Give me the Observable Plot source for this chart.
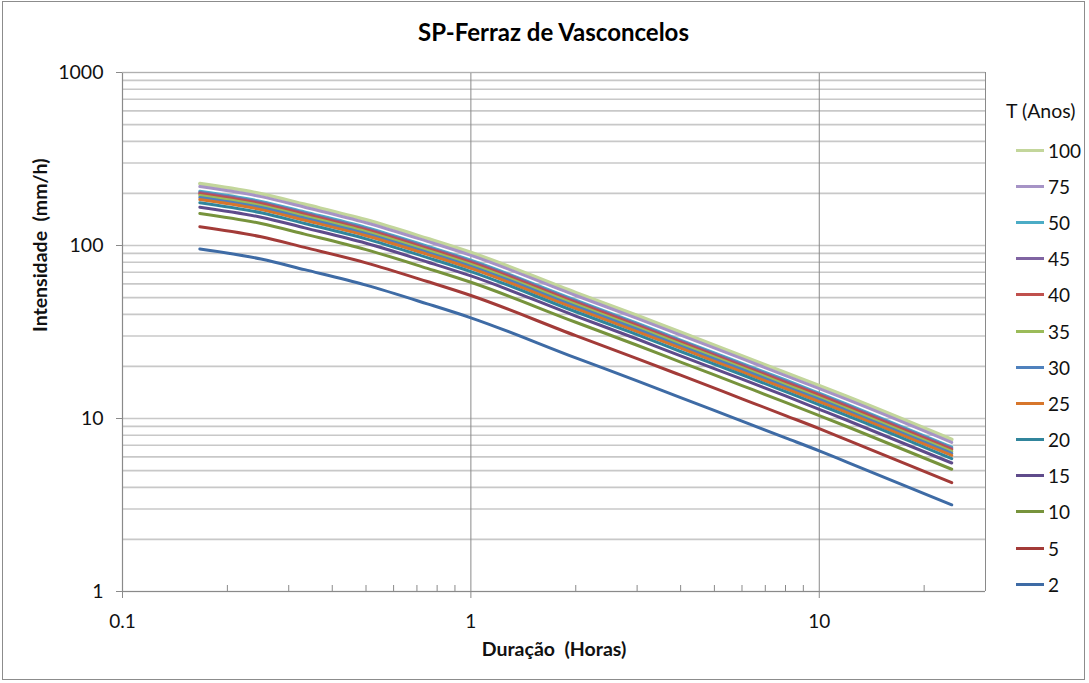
<!DOCTYPE html>
<html><head><meta charset="utf-8">
<script src="https://cdn.jsdelivr.net/npm/d3@7"></script>
<script src="https://cdn.jsdelivr.net/npm/@observablehq/plot@0.6"></script>
<style>
body{margin:0;background:#fff;font-family:Lato,"Open Sans",sans-serif;}
#wrap{position:relative;width:1089px;height:683px;overflow:hidden;background:#fff;}
#frame{position:absolute;left:2px;top:1px;width:1083px;height:679px;border:1px solid #8c8c8c;box-sizing:border-box;pointer-events:none;}
#title{position:absolute;left:0;width:1107px;top:17px;text-align:center;font-weight:bold;font-size:24px;color:#000;}
#legend{position:absolute;left:1006px;top:99px;font-size:19px;color:#111;}
#legend .hd{margin-bottom:10px;margin-left:0px;font-size:19.5px;}
#legend .it{display:flex;align-items:center;height:36.2px;}
#legend .sw{width:28px;height:3px;margin-left:10px;margin-right:4px;}
#chart{position:absolute;left:0;top:0;width:1089px;height:683px;}
#chart svg{max-width:none;}
</style></head><body>
<div id="wrap"><div id="chart"></div><div id="title">SP-Ferraz de Vasconcelos</div><div id="legend"></div><div id="frame"></div></div>
<script>
// Duration (hours)
const durations = [0.1667, 0.25, 0.3333, 0.5, 0.75, 1, 2, 3, 4, 6, 8, 10, 12, 24];
// Return periods (years), legend order
const returnPeriods = [100, 75, 50, 45, 40, 35, 30, 25, 20, 15, 10, 5, 2];
// Intensity (mm/h) per return period
const t100 = [227.8, 199.1, 172.9, 140.7, 109.7, 91.1, 53.4, 39.4, 31.5, 23.0, 18.4, 15.5, 13.4, 7.56];
const t75  = [219.2, 191.6, 166.4, 135.4, 105.6, 87.7, 51.4, 37.9, 30.3, 22.2, 17.7, 14.9, 12.9, 7.28];
const t50  = [205.8, 179.9, 156.2, 127.1, 99.1, 82.3, 48.3, 35.6, 28.4, 20.8, 16.7, 14.0, 12.1, 6.83];
const t45  = [202.5, 177.0, 153.7, 125.1, 97.5, 81.0, 47.5, 35.0, 28.0, 20.5, 16.4, 13.8, 11.9, 6.72];
const t40  = [199.1, 174.1, 151.2, 123.0, 95.9, 79.6, 46.7, 34.4, 27.5, 20.1, 16.1, 13.6, 11.7, 6.61];
const t35  = [194.3, 169.9, 147.5, 120.1, 93.6, 77.7, 45.6, 33.6, 26.9, 19.7, 15.7, 13.2, 11.4, 6.45];
const t30  = [189.6, 165.7, 143.9, 117.1, 91.3, 75.8, 44.5, 32.8, 26.2, 19.2, 15.3, 12.9, 11.1, 6.29];
const t25  = [184.3, 161.2, 139.9, 113.9, 88.8, 73.7, 43.2, 31.8, 25.5, 18.6, 14.9, 12.5, 10.8, 6.12];
const t20  = [176.7, 154.5, 134.1, 109.2, 85.1, 70.7, 41.4, 30.5, 24.4, 17.9, 14.3, 12.0, 10.4, 5.86];
const t15  = [166.6, 145.7, 126.5, 103.0, 80.3, 66.7, 39.1, 28.8, 23.0, 16.9, 13.5, 11.3, 9.77, 5.53];
const t10  = [153.3, 134.0, 116.4, 94.7, 73.8, 61.3, 36.0, 26.5, 21.2, 15.5, 12.4, 10.4, 8.99, 5.09];
const t5   = [128.4, 112.3, 97.5, 79.4, 61.9, 51.4, 30.1, 22.2, 17.8, 13.0, 10.4, 8.74, 7.53, 4.26];
const t2   = [95.5, 83.5, 72.5, 59.0, 46.0, 38.2, 22.4, 16.5, 13.2, 9.66, 7.73, 6.50, 5.60, 3.17];
const seriesValues = [t100, t75, t50, t45, t40, t35, t30, t25, t20, t15, t10, t5, t2];
const colors = ["#C3D69B", "#A693C6", "#4BACC6", "#8064A2", "#C0504D", "#9BBB59", "#4F81BD", "#D7762B", "#31859C", "#5F4B8B", "#77933C", "#A33B38", "#3E6BA5"];
// Axis ticks
const yMajor = [1, 10, 100, 1000];
const yMinor = [2,3,4,5,6,7,8,9,20,30,40,50,60,70,80,90,200,300,400,500,600,700,800,900];
const xMajor = [0.1, 1, 10];
const xMinor = [0.2,0.3,0.4,0.5,0.6,0.7,0.8,0.9,2,3,4,5,6,7,8,9,20];
const xMax = 30;

const labels = returnPeriods.map(String);
const rows = [];
returnPeriods.forEach((T, k) => durations.forEach((t, j) => rows.push({T: String(T), t, i: seriesValues[k][j]})));

const chart = Plot.plot({
  width: 1089, height: 683,
  marginLeft: 122, marginRight: 104, marginTop: 72, marginBottom: 92,
  style: {fontFamily: "Lato, 'Open Sans', sans-serif", background: "transparent", maxWidth: "none"},
  x: {type: "log", domain: [0.1, xMax]},
  y: {type: "log", domain: [1, 1000]},
  color: {type: "ordinal", domain: labels, range: colors},
  marks: [
    Plot.ruleY(yMinor.concat(yMajor), {stroke: "#c8c8c8", strokeWidth: 1.6}),
    Plot.ruleX(xMajor.slice(1), {stroke: "#8a8a8a", strokeWidth: 1}),
    Plot.ruleX([xMax], {stroke: "#8a8a8a", strokeWidth: 1}),
    Plot.ruleX([0.1], {stroke: "#8a8a8a", strokeWidth: 1.2}),
    Plot.ruleY([1], {stroke: "#8a8a8a", strokeWidth: 1.2}),
    Plot.ruleY([1000], {stroke: "#b0b0b0", strokeWidth: 1.2}),
    Plot.ruleX(xMinor, {y1: 1, y2: 1.083, stroke: "#8a8a8a"}),
    Plot.axisX({ticks: xMajor, tickFormat: d => String(d), tickSize: 7, tickPadding: 16, fontSize: 19, stroke: "#8a8a8a", fill: "#111", label: null}),
    Plot.axisY({ticks: yMajor, tickFormat: d => String(d), tickSize: 6, tickPadding: 13, fontSize: 19.5, stroke: "#8a8a8a", fill: "#111", label: null}),
    Plot.text(["Duração\u00a0 (Horas)"], {frameAnchor: "bottom", dy: 64, fontWeight: "bold", fontSize: 19.5, fill: "#111"}),
    Plot.text(["Intensidade\u00a0 (mm/h)"], {frameAnchor: "left", dx: -82, rotate: -90, fontWeight: "bold", fontSize: 19.5, fill: "#111"}),
    ...labels.map(L => Plot.line(rows.filter(r => r.T === L), {x: "t", y: "i", stroke: "T", curve: "monotone-x", strokeWidth: L === "100" ? 3.6 : 3, strokeLinejoin: "round", strokeLinecap: "round"}))
  ]
});
document.getElementById("chart").appendChild(chart);

const lg = document.getElementById("legend");
const hd = document.createElement("div"); hd.className = "hd"; hd.textContent = "T (Anos)"; lg.appendChild(hd);
labels.forEach((L, k) => {
  const it = document.createElement("div"); it.className = "it";
  const sw = document.createElement("span"); sw.className = "sw"; sw.style.background = colors[k];
  const tx = document.createElement("span"); tx.textContent = L;
  it.appendChild(sw); it.appendChild(tx); lg.appendChild(it);
});
</script>
</body></html>
